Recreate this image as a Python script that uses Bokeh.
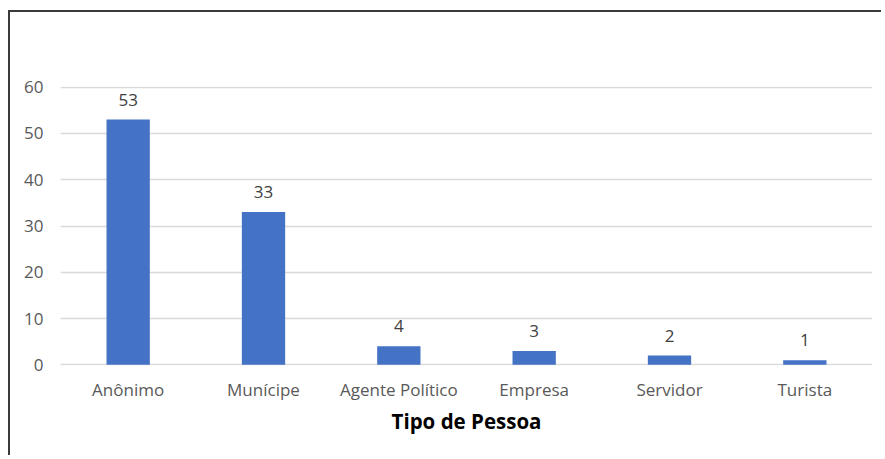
from bokeh.plotting import figure
from bokeh.models import ColumnDataSource, Range1d, FixedTicker, FactorRange
from bokeh.core.properties import value
from bokeh.embed import file_html
from bokeh.resources import INLINE

categories = ["Anônimo", "Munícipe", "Agente Político", "Empresa", "Servidor", "Turista"]
counts = [53, 33, 4, 3, 2, 1]
y_ticks = [0, 10, 20, 30, 40, 50, 60]

FONT = "Open Sans"

source = ColumnDataSource(data=dict(cat=categories, n=counts, lbl=[str(v) for v in counts]))

p = figure(
    x_range=FactorRange(*categories, range_padding=0),
    y_range=Range1d(-0.15, 60.15),
    width=873, height=445,
    output_backend="svg", toolbar_location=None,
    min_border_left=50, min_border_right=11, min_border_top=74, min_border_bottom=92,
)
p.styles = {
    "border-left": "2px solid #3a3a3a",
    "border-top": "2px solid #3a3a3a",
    "margin-left": "8px",
    "margin-top": "10px",
}
p.outline_line_color = None
p.background_fill_color = "white"
p.border_fill_color = "white"

p.vbar(x="cat", top="n", width=0.32, source=source, fill_color="#4472C4", line_color=None)

p.text(x="cat", y="n", text="lbl", source=source, text_align="center",
       text_baseline="alphabetic", y_offset=-20, text_font=value(FONT),
       text_font_size="17px", text_color="#404040")

p.xgrid.grid_line_color = None
p.ygrid.grid_line_color = "#d9d9d9"
p.ygrid.grid_line_width = 1.3
p.yaxis.ticker = FixedTicker(ticks=y_ticks)

for ax in (p.xaxis[0], p.yaxis[0]):
    ax.axis_line_color = None
    ax.major_tick_line_color = None
    ax.minor_tick_line_color = None
    ax.major_tick_out = 0
    ax.major_tick_in = 0
    ax.major_label_text_font = FONT
    ax.major_label_text_font_size = "17px"
    ax.major_label_text_color = "#595959"

p.yaxis.major_label_standoff = 17
p.xaxis.major_label_standoff = 12
p.xaxis.axis_label = "Tipo de Pessoa"
p.xaxis.axis_label_text_font = FONT
p.xaxis.axis_label_text_font_style = "bold"
p.xaxis.axis_label_text_font_size = "20.5px"
p.xaxis.axis_label_text_color = "#000000"
p.xaxis.axis_label_standoff = 3

open("out.html", "w").write(file_html(p, INLINE))
